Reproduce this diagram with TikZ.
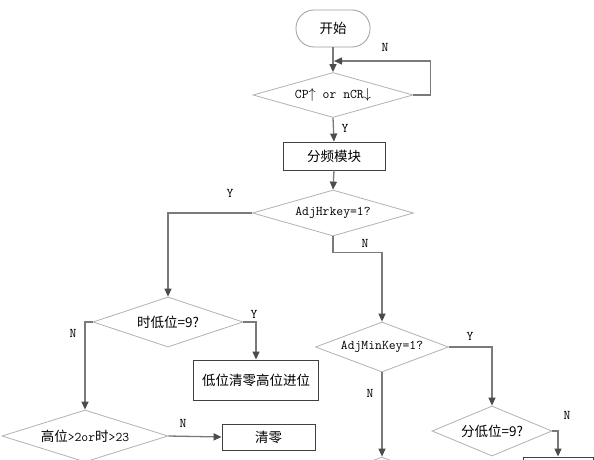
\documentclass[tikz,border=0pt]{standalone}
\usepackage{fontspec}
\newfontfamily\cjk{Noto Sans CJK SC}
\newcommand{\mtt}{\ttfamily\fontsize{13.3}{14}\selectfont}
\usetikzlibrary{shapes.geometric,arrows.meta}
\tikzset{
  conn/.style={draw=black!52, line width=1.3pt},
  arr/.style={conn, -{Triangle[length=8pt,width=7pt,color=black!70]}},
  dec/.style={diamond, draw=black!30, line width=0.8pt, inner sep=0pt, aspect=3.2, font=\mtt},
  procbox/.style={rectangle, draw=black!75, line width=0.9pt, inner sep=0pt, font=\cjk\fontsize{13.5}{14}\selectfont},
  termbox/.style={rectangle, rounded corners=18pt, draw=black!38, line width=0.8pt, inner sep=0pt, minimum width=74pt, minimum height=37pt, font=\cjk\fontsize{13.5}{14}\selectfont},
  lbl/.style={font=\mtt, inner sep=0pt}
}
\begin{document}
\begin{tikzpicture}[x=1pt,y=-1pt]
\useasboundingbox (0,0) rectangle (594,460);
\clip (0,0) rectangle (594,460);
\fill[white] (0,0) rectangle (594,460);

\node[termbox] (start) at (333,28.5) {开始};
\node[dec, minimum width=160pt, minimum height=45pt] (d1) at (333,95) {CP$\uparrow$ or nCR$\downarrow$};
\node[procbox, minimum width=102pt, minimum height=28pt] (b1) at (334,156) {分频模块};
\node[dec, minimum width=161pt, minimum height=46pt] (d2) at (333,213) {AdjHrkey=1?};
\node[dec, minimum width=150pt, minimum height=50pt, font=\cjk\fontsize{13.5}{14}\selectfont] (d3) at (168,322) {时低位=9?};
\node[procbox, minimum width=125pt, minimum height=40pt] (b2) at (256,380) {低位清零高位进位};
\node[dec, minimum width=166pt, minimum height=52pt] (d5) at (85,436) {{\cjk\fontsize{13.5}{14}\selectfont 高位}>2or{\cjk\fontsize{13.5}{14}\selectfont 时}>23};
\node[procbox, minimum width=93pt, minimum height=26pt] (b3) at (268.5,437) {清零};
\node[dec, minimum width=133pt, minimum height=50pt] (d4) at (382,347) {AdjMinKey=1?};
\node[dec, minimum width=120pt, minimum height=50pt, font=\cjk\fontsize{13.5}{14}\selectfont] (d6) at (492,431) {分低位=9?};
\node[dec, minimum width=133pt, minimum height=50pt] (d7) at (382,482) {};
\node[procbox, minimum width=70pt, minimum height=30pt] (b4) at (558,472) {};
\coordinate (loopend) at (334,61);

\draw[arr] (start.south -| d1.north) -- (d1.north);
\draw[arr] (d1.east) -- ++(17,0) |- (loopend);
\draw[arr] (d1.south) -- (b1.north);
\draw[arr] (b1.south) -- (d2.north);
\draw[arr] (d2.west) -| (d3.north);
\draw[arr] (d2.south) -- ++(0,16) -| (d4.north);
\draw[arr] (d3.east) -| (b2.north);
\draw[arr] (d3.west) -| (d5.north);
\draw[arr] (d5.east) -- (b3.west);
\draw[arr] (d4.east) -| (d6.north);
\draw[arr] (d4.south) -- (d7.north);
\draw[arr] (d6.east) -| (b4.north);

\node[lbl] (lN1) at (385,47) {N};
\node[lbl] (lY1) at (345,128) {Y};
\node[lbl] (lY2) at (230,193) {Y};
\node[lbl] (lN2) at (365,243) {N};
\node[lbl] (lY3) at (254,314) {Y};
\node[lbl] (lN3) at (73,333) {N};
\node[lbl] (lN4) at (183,423) {N};
\node[lbl] (lY4) at (470,336) {Y};
\node[lbl] (lN5) at (370,393) {N};
\node[lbl] (lN6) at (567,415) {N};
\end{tikzpicture}
\end{document}
